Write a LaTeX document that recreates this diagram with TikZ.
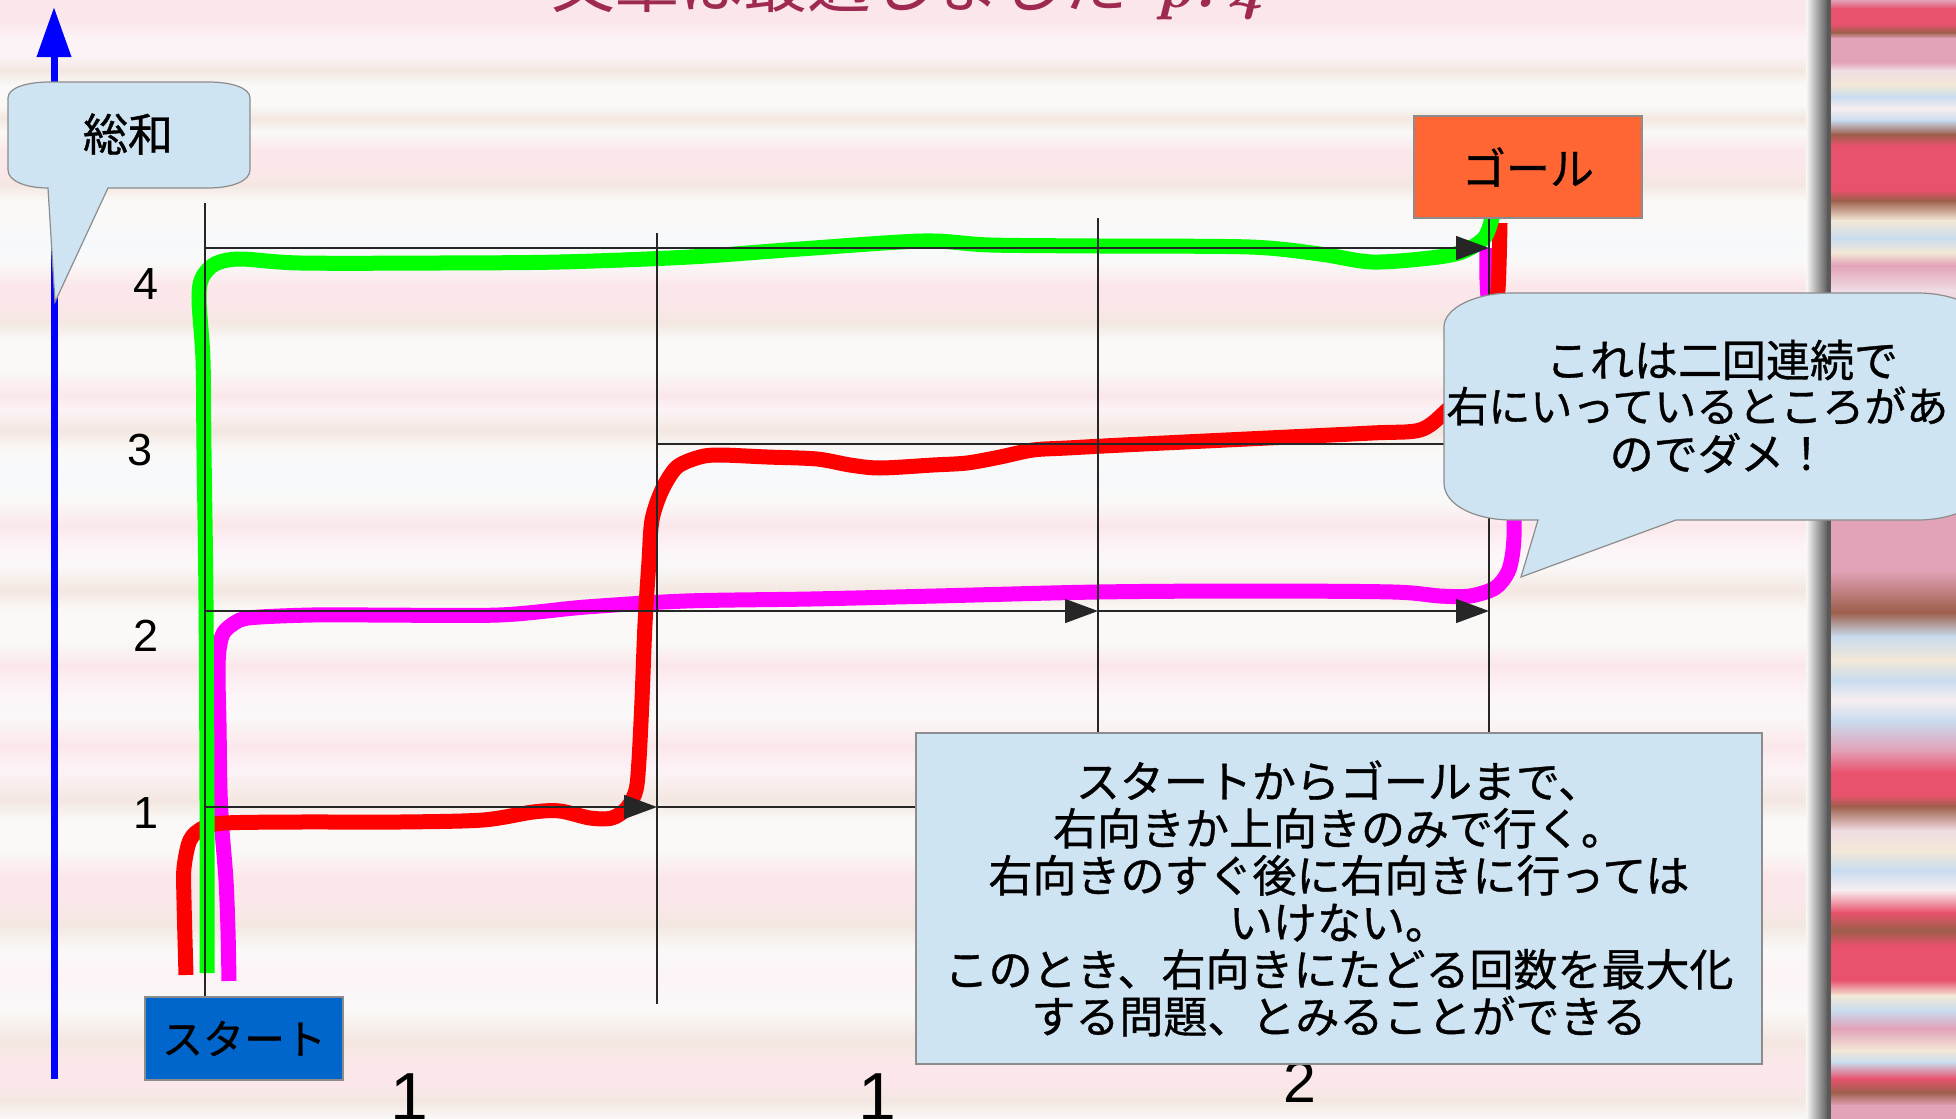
\documentclass[tikz,border=0pt]{standalone}
\usepackage{fontspec}
\usetikzlibrary{arrows.meta}
\newfontfamily\jp[FakeBold=0.8]{Noto Sans CJK JP}
\newfontfamily\jpt{Noto Sans CJK JP}
\newfontfamily\arialf{Liberation Sans}
% main background stripes
\definecolor{mW}{HTML}{FAF9F8}
\definecolor{mP}{HTML}{FBE7EA}
\definecolor{mB}{HTML}{F3E7E0}
\definecolor{mL}{HTML}{F6F9FB}
\definecolor{mV}{HTML}{FCF3F7}
% right strip
\definecolor{sR}{HTML}{E8526C}
\definecolor{sN}{HTML}{9C5E4A}
\definecolor{sK}{HTML}{E2A2B8}
\definecolor{sL}{HTML}{F0DCE4}
\definecolor{sY}{HTML}{F3E8D6}
\definecolor{sC}{HTML}{C8DCEF}
\definecolor{sW}{HTML}{F8EEF0}
% objects
\definecolor{routeG}{HTML}{00FF00}
\definecolor{routeR}{HTML}{FF0000}
\definecolor{routeM}{HTML}{FF00FF}
\definecolor{axisblue}{HTML}{0000FF}
\definecolor{goalfill}{HTML}{FF6633}
\definecolor{startfill}{HTML}{0066CC}
\definecolor{paleblue}{HTML}{CFE4F2}
\definecolor{bordergray}{HTML}{8C8C8C}
\definecolor{titlered}{HTML}{9E2A52}

\begin{document}
\begin{tikzpicture}[x=0.5pt,y=-0.5pt,
  gridline/.style={draw=black!85, line width=0.65pt},
  tipped/.style={-{Triangle[length=16.5pt,width=12pt]}},
  route/.style={line width=7.5pt, line join=round},
  boxbase/.style={draw=bordergray, line width=0.6pt, inner sep=0pt},
  goalbox/.style={boxbase, fill=goalfill, minimum width=114pt, minimum height=51pt,
     font=\jp\fontsize{22pt}{24pt}\selectfont},
  startbox/.style={boxbase, fill=startfill, minimum width=99pt, minimum height=41.5pt,
     font=\jp\fontsize{20.5pt}{22pt}\selectfont},
  notebox/.style={boxbase, fill=paleblue, minimum width=423pt, minimum height=165.5pt,
     align=center, font=\jp\fontsize{22pt}{23.5pt}\selectfont},
  calloutshape/.style={draw=bordergray, line width=0.6pt, fill=paleblue},
  callouttext/.style={inner sep=0pt, font=\jp\fontsize{22pt}{24pt}\selectfont},
  axisnum/.style={inner sep=0pt, font=\arialf\fontsize{22.5pt}{24pt}\selectfont},
  bignum/.style={inner sep=0pt, anchor=base},
]
\useasboundingbox (0,0) rectangle (1956,1119);
\begin{scope}
\clip (0,0) rectangle (1956,1119);

% ---------- background ----------
\foreach \yy/\cc [remember=\yy as \py (initially 0), remember=\cc as \pc (initially mP)] in
 {22/mP,38/mV,55/mV,70/mB,85/mW,105/mW,118/mB,132/mW,150/mP,170/mP,185/mB,200/mW,220/mW,
  245/mL,262/mW,285/mP,305/mP,322/mB,340/mW,370/mW,395/mP,410/mV,430/mB,450/mW,480/mL,
  500/mW,525/mP,545/mV,565/mW,590/mB,610/mW,640/mW,665/mP,690/mV,715/mW,745/mP,770/mV,
  800/mB,820/mW,850/mW,875/mP,900/mP,925/mB,950/mW,975/mV,1010/mW,1040/mB,1060/mP,
  1085/mP,1100/mB,1120/mW}
  {\shade[top color=\pc, bottom color=\cc] (0,\py) rectangle (1832,\yy+0.8);}
\shade[left color=mW, right color=black!65] (1806,0) rectangle (1828,1119);
\fill[black!65] (1827,0) rectangle (1832,1119);
\foreach \yy/\cc [remember=\yy as \py (initially 0), remember=\cc as \pc (initially sK)] in
 {8/sR,24/sR,32/sN,38/sK,62/sK,70/sL,85/sY,96/sC,108/sW,120/sC,134/sN,145/sR,190/sR,200/sN,
  220/sY,238/sC,252/sY,265/sK,290/sL,400/sK,525/sK,570/sK,612/sN,636/sC,660/sY,680/sC,
  700/sW,720/sC,750/sK,772/sR,795/sR,806/sN,830/sL,850/sY,870/sC,890/sW,912/sR,930/sN,
  945/sR,980/sR,995/sY,1010/sC,1028/sK,1050/sY,1062/sC,1078/sR,1092/sN,1105/sK,1120/sK}
  {\shade[top color=\pc, bottom color=\cc] (1831,\py) rectangle (1956,\yy+0.8);}

% ---------- title (cut off at top) ----------
\node[anchor=base west, inner sep=0pt, text=titlered, font=\jpt\fontsize{32pt}{32pt}\selectfont]
  (title) at (551,8) {文章は最適しました\hspace{14pt}{\rmfamily\bfseries\itshape p.\,4}};

% ---------- coloured routes ----------
\draw[route, routeM] plot[smooth, tension=0.5] coordinates {
 (229,981) (228,930) (226,880) (222,830) (220,790) (219,723) (218,676) (219,650)
 (224,632) (240,620) (260,617) (312,615) (374,615) (499,615) (586,607) (686,601)
 (811,599) (936,596) (1098,592) (1250,591) (1393,592) (1440,596) (1470,596)
 (1495,588) (1508,572) (1513,550) (1514,520) (1510,450) (1498,370) (1490,320)
 (1487,280) (1487,248)};
\draw[route, routeR] plot[smooth, tension=0.5] coordinates {
 (186,975) (184,900) (184,868) (190,840) (203,828) (225,823) (300,822) (400,822)
 (483,820) (533,812) (560,811) (590,818) (612,818) (627,808) (636,790) (639,760)
 (642,700) (645,624) (649,561) (652,520) (662,490) (677,467) (700,457) (720,455)
 (767,457) (817,459) (850,465) (880,468) (933,465) (967,463) (1000,457) (1033,450)
 (1067,448) (1123,445) (1247,439) (1372,433) (1420,430) (1445,412) (1475,380)
 (1492,330) (1498,290) (1500,223)};
\draw[route, routeG] plot[smooth, tension=0.5] coordinates {
 (207,973) (207,800) (206,600) (204,450) (203,360) (199,300) (202,278) (215,264)
 (240,259) (300,263) (440,263) (560,262) (690,257) (800,249) (923,241) (990,245)
 (1100,246) (1250,247) (1320,254) (1372,262) (1430,258) (1462,252) (1485,237)
 (1494,210)};

% ---------- grid ----------
\coordinate (v0t) at (205,203);  \coordinate (v0b) at (205,998);
\coordinate (v1t) at (657,233);  \coordinate (v1b) at (657,1004);
\coordinate (v2t) at (1098,218); \coordinate (v2b) at (1098,733);
\coordinate (v3t) at (1489,218); \coordinate (v3b) at (1489,733);
\coordinate (r4a) at (205,248);  \coordinate (r4b) at (1489,248);
\coordinate (r3a) at (657,444);  \coordinate (r3b) at (1489,444);
\coordinate (r2a) at (205,611);  \coordinate (r2m) at (1098,611); \coordinate (r2b) at (1489,611);
\coordinate (r1a) at (205,807);  \coordinate (r1m) at (657,807);  \coordinate (r1b) at (1098,807);
\draw[gridline] (v0t) -- (v0b);
\draw[gridline] (v1t) -- (v1b);
\draw[gridline] (v2t) -- (v2b);
\draw[gridline] (v3t) -- (v3b);
\draw[gridline, tipped] (r4a) -- (r4b);
\draw[gridline, tipped] (r3a) -- (r3b);
\draw[gridline, tipped] (r2a) -- (r2m);
\draw[gridline, tipped] (r2m) -- (r2b);
\draw[gridline, tipped] (r1a) -- (r1m);
\draw[gridline, tipped] (r1m) -- (r1b);

% ---------- boxes ----------
\node[goalbox] (goal) at (1528,167) {ゴール};
\node[startbox] (start) at (244,1038.5) {スタート};

\node[bignum, font=\arialf\fontsize{34pt}{36pt}\selectfont] (n1) at (409,1120) {1};
\node[bignum, font=\arialf\fontsize{34pt}{36pt}\selectfont] (n2) at (877,1120) {1};
\node[bignum, font=\arialf\fontsize{29.5pt}{31pt}\selectfont] (n3) at (1300,1102) {2};

\node[notebox] (note) at (1339,898.5) {スタートからゴールまで、\\右向きか上向きのみで行く。\\右向きのすぐ後に右向きに行っては\\いけない。\\このとき、右向きにたどる回数を最大化\\する問題、とみることができる};

% ---------- blue axis ----------
\coordinate (axbot) at (54,1079);
\coordinate (axtop) at (54,7);
\draw[axisblue, line width=3.5pt, -{Triangle[length=25pt,width=16.5pt]}] (axbot) -- (axtop);

% ---------- callouts ----------
\path[calloutshape] (50,82) -- (208,82) .. controls (232,82) and (250,88) .. (250,98)
  -- (250,170) .. controls (250,181) and (232,188) .. (208,188) -- (108,188) -- (55,302)
  -- (48,188) .. controls (26,188) and (8,181) .. (8,170) -- (8,98)
  .. controls (8,88) and (26,82) .. (50,82) -- cycle;
\node[inner sep=0pt, font=\jp\fontsize{22.5pt}{24pt}\selectfont] (sumlabel) at (128,134) {総和};

\path[calloutshape] (1512,293) -- (1917,293) .. controls (1955,293) and (1985,308) .. (1985,327)
  -- (1985,483) .. controls (1985,505) and (1955,520) .. (1917,520) -- (1676,520)
  -- (1521,577) -- (1538,520) -- (1512,520) .. controls (1475,520) and (1444,505) .. (1444,483)
  -- (1444,327) .. controls (1444,308) and (1475,293) .. (1512,293) -- cycle;
\node[callouttext] (c1) at (1722,360) {これは二回連続で};
\node[callouttext, anchor=west, font=\jp\fontsize{21pt}{24pt}\selectfont] (c2) at (1446,406) {右にいっているところがあ};
\node[callouttext] (c3) at (1719,453) {のでダメ！};

% ---------- axis numbers ----------
\node[axisnum] (y4) at (146,284) {4};
\node[axisnum] (y3) at (140,450) {3};
\node[axisnum] (y2) at (146,636) {2};
\node[axisnum] (y1) at (146,813) {1};
\end{scope}
\end{tikzpicture}
\end{document}
